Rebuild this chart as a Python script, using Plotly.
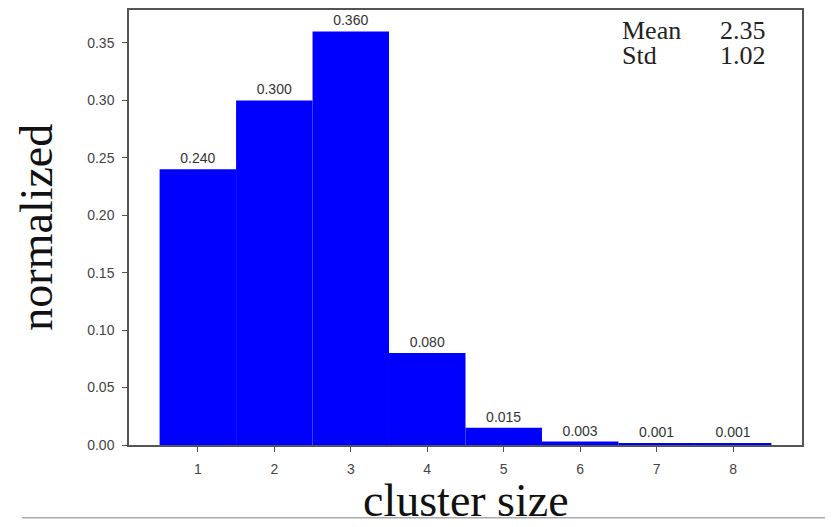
import plotly.graph_objects as go

cluster_sizes = [1, 2, 3, 4, 5, 6, 7, 8]
normalized = [0.240, 0.300, 0.360, 0.080, 0.015, 0.003, 0.001, 0.001]
y_ticks = [0.00, 0.05, 0.10, 0.15, 0.20, 0.25, 0.30, 0.35]
stat_names = ["Mean", "Std"]
stat_values = ["2.35", "1.02"]

fig = go.Figure()
fig.add_trace(go.Bar(
    x=cluster_sizes, y=normalized, width=1.0,
    marker=dict(color="#0000FF", line=dict(width=0)),
    text=[f"{v:.3f}" for v in normalized],
    textposition="outside", cliponaxis=False,
    textfont=dict(family="Liberation Sans, Arial", size=14, color="#333333"),
    constraintext="none",
))

axis_common = dict(showline=True, linecolor="#555555", linewidth=1.5, mirror=True,
                   ticks="outside", ticklen=5, tickcolor="#555555", showgrid=False, zeroline=False,
                   ticklabelstandoff=5,
                   tickfont=dict(family="Liberation Sans, Arial", size=14, color="#444444"))
fig.update_xaxes(range=[0.1, 8.9], tickvals=cluster_sizes, **axis_common)
fig.update_yaxes(range=[0, 0.3787], tickvals=y_ticks, tickformat=".2f", **axis_common)

serif = "Liberation Serif, Times New Roman, serif"
annotations = [
    dict(text="cluster size", x=0.5, y=-0.190, xref="paper", yref="paper",
         xanchor="center", yanchor="bottom", showarrow=False,
         font=dict(family=serif, size=46, color="#111111")),
    dict(text="normalized", x=-0.138, y=0.5, xref="paper", yref="paper",
         xanchor="center", yanchor="middle", textangle=-90, showarrow=False,
         font=dict(family=serif, size=46, color="#111111")),
]
stat_y = [0.955, 0.896]
for name, val, yy in zip(stat_names, stat_values, stat_y):
    annotations.append(dict(text=name, x=0.7296, y=yy, xref="paper", yref="paper",
                            xanchor="left", yanchor="middle", showarrow=False, height=22, valign="middle",
                            font=dict(family=serif, size=26, color="#222222")))
    annotations.append(dict(text=val, x=0.950, y=yy, xref="paper", yref="paper",
                            xanchor="right", yanchor="middle", showarrow=False, height=22, valign="middle",
                            font=dict(family=serif, size=26, color="#222222")))

# page body has an 8px margin, so the figure is sized and offset to compensate
fig.update_layout(
    width=825, height=519,
    margin=dict(l=121, r=31, t=0, b=82),
    plot_bgcolor="white", paper_bgcolor="white",
    showlegend=False, annotations=annotations,
    shapes=[dict(type="line", xref="paper", yref="paper", x0=-0.159, x1=1.05, y0=-0.167, y1=-0.167,
                 line=dict(color="#AAAAAA", width=1.5), layer="below")],
)
fig.write_html("out.html")
